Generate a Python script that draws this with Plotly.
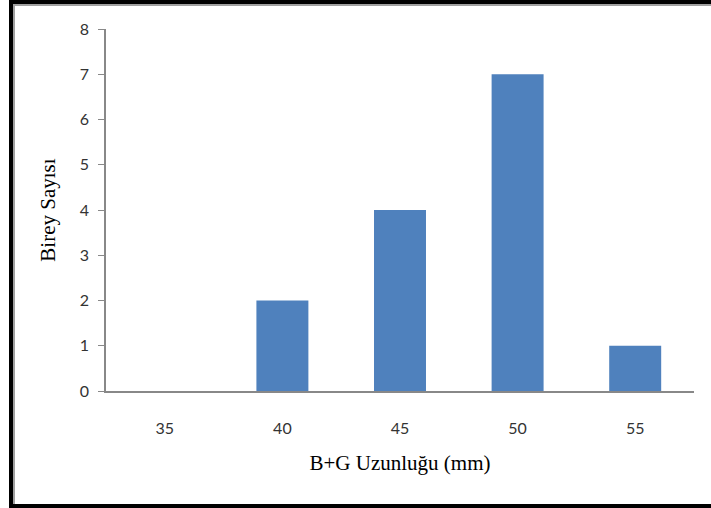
import plotly.graph_objects as go

# Frequency of individuals per length class
length_classes = ["35", "40", "45", "50", "55"]
counts = [0, 2, 4, 7, 1]

W, H = 711, 508
L, R, T, B = 106, 17, 29, 117
pw, ph = W - L - R, H - T - B


def px_x(x):
    return (x - L) / pw


def px_y(y):
    return (H - B - y) / ph


fig = go.Figure(
    go.Bar(
        x=length_classes,
        y=counts,
        marker=dict(color="#4F81BD", line=dict(width=0)),
        width=0.442,
    )
)

# Outer frame: thick black edges with a thin grey inner line
frame = [
    (9, 0, 13, H, "#000000"),
    (13, 4, 15, H, "#a0a0a0"),
    (9, 0, W, 4, "#000000"),
    (13, 4, W, 6, "#a0a0a0"),
    (9, 504, W, H, "#000000"),
]
shapes = []
for x0, y0, x1, y1, c in frame:
    shapes.append(dict(
        type="rect", xref="paper", yref="paper",
        x0=px_x(x0), x1=px_x(x1), y0=px_y(y1), y1=px_y(y0),
        fillcolor=c, line=dict(width=0), layer="above",
    ))

tick_font = dict(family="Lato, Open Sans, sans-serif", size=16, color="#333333")
title_font = dict(family="Liberation Serif, Times New Roman, serif", size=21, color="#000000")

fig.update_layout(
    width=W, height=H,
    margin=dict(l=L, r=R, t=T, b=B, pad=0),
    paper_bgcolor="white", plot_bgcolor="white",
    showlegend=False,
    shapes=shapes,
    xaxis=dict(
        type="category",
        range=[-0.5, 4.5],
        showgrid=False, zeroline=False,
        showline=True, linecolor="#888888", linewidth=1.5,
        ticks="", tickfont=tick_font,
        ticklabelstandoff=22,
        title=dict(text="B+G Uzunluğu (mm)", font=title_font, standoff=19),
    ),
    yaxis=dict(
        range=[0, 8], dtick=1,
        showgrid=False, zeroline=False,
        showline=True, linecolor="#888888", linewidth=1.5,
        ticks="outside", ticklen=6, tickcolor="#888888", tickwidth=1,
        tickfont=tick_font,
        ticklabelstandoff=6,
        title=dict(text="Birey Sayısı", font=title_font, standoff=18),
    ),
)

fig.write_html("out.html")
